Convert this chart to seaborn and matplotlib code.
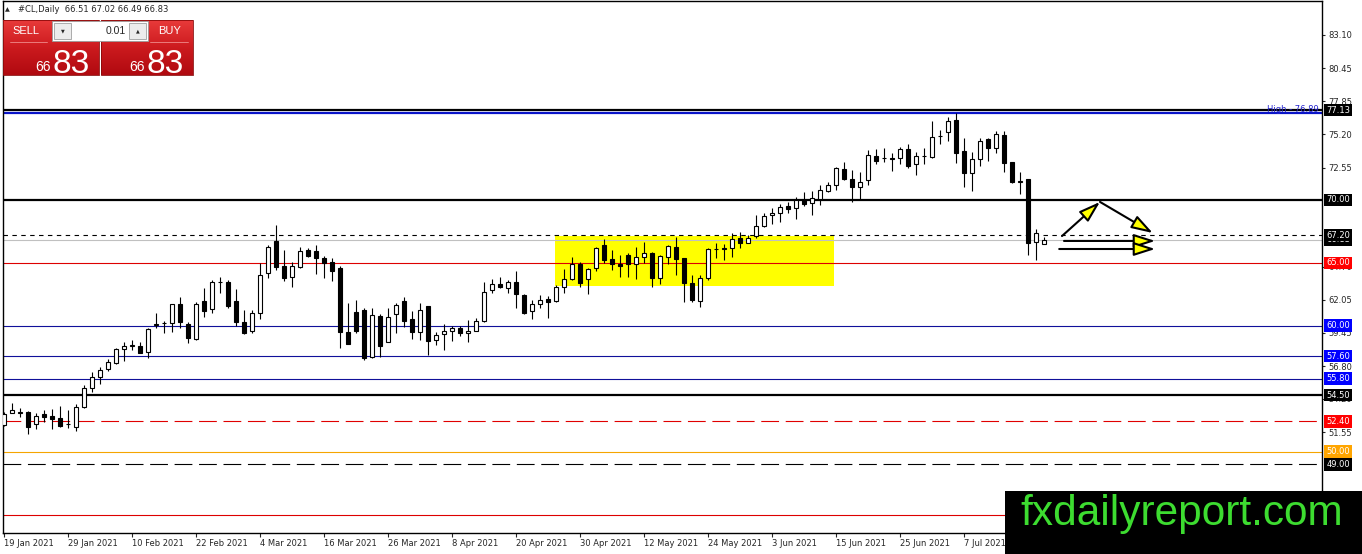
import numpy as np
import pandas as pd
import matplotlib
matplotlib.use("Agg")
import matplotlib.pyplot as plt
from matplotlib.patches import Rectangle
from matplotlib.colors import LinearSegmentedColormap
import seaborn as sns

# daily candles, first one is 19 Jan 2021
opens = [52.12, 53.05, 53.10, 53.15, 52.17, 52.99, 52.83, 52.65, 52.20, 51.99,
         53.52, 55.08, 55.96, 56.54, 57.07, 58.13, 58.42, 58.42, 57.94, 60.09,
         60.19, 60.25, 61.70, 60.14, 58.92, 61.97, 61.31, 63.48, 63.50, 61.97,
         60.27, 59.58, 61.04, 64.17, 66.73, 64.75, 63.85, 64.70, 66.02, 65.94,
         65.41, 65.04, 64.62, 59.53, 61.07, 61.26, 57.55, 60.81, 58.69, 60.91,
         61.97, 60.52, 59.48, 61.58, 58.88, 59.33, 59.59, 59.80, 59.41, 59.62,
         60.41, 62.85, 63.30, 62.98, 63.46, 62.45, 61.18, 61.71, 62.13, 61.97,
         63.06, 63.69, 64.89, 63.69, 64.57, 66.42, 65.28, 64.91, 65.62, 64.88,
         65.44, 65.76, 63.82, 65.49, 66.29, 65.36, 63.37, 61.97, 63.82, 66.07,
         66.21, 66.15, 66.95, 66.60, 67.13, 67.95, 68.80, 68.93, 69.54, 69.33,
         69.99, 69.73, 70.07, 70.71, 71.19, 72.43, 71.64, 71.05, 71.58, 73.49,
         73.30, 73.30, 73.30, 74.05, 72.83, 73.49, 73.44, 75.08, 75.37, 76.35,
         73.89, 72.17, 73.22, 74.81, 74.15, 75.16, 72.99, 71.45, 71.66, 66.63,
         66.51]
highs = [53.18, 53.84, 53.44, 53.26, 53.05, 53.31, 53.36, 53.63, 53.31, 53.79,
         55.30, 56.30, 56.70, 57.36, 58.26, 58.69, 58.87, 58.74, 59.85, 60.99,
         60.40, 61.70, 62.26, 60.27, 61.86, 62.97, 63.64, 63.85, 63.64, 62.89,
         61.25, 61.25, 64.96, 66.42, 68.00, 66.02, 65.04, 66.28, 66.20, 66.42,
         65.54, 65.36, 64.75, 61.78, 62.05, 61.40, 61.39, 60.91, 61.39, 61.79,
         62.32, 61.18, 61.79, 61.60, 59.48, 60.12, 59.99, 59.99, 60.46, 60.60,
         63.51, 63.69, 63.85, 63.64, 64.36, 62.53, 62.05, 62.45, 62.40, 63.24,
         64.49, 65.49, 65.10, 64.57, 66.29, 66.87, 66.02, 65.62, 65.76, 66.29,
         66.68, 65.84, 65.62, 66.42, 67.08, 65.41, 64.04, 64.04, 66.21, 66.55,
         66.47, 67.35, 67.48, 67.21, 68.80, 68.93, 69.38, 69.65, 69.86, 70.26,
         70.60, 70.71, 71.19, 71.45, 72.64, 73.04, 72.38, 72.19, 73.97, 74.05,
         74.15, 73.70, 74.23, 74.42, 73.83, 74.10, 76.27, 75.55, 76.61, 76.89,
         74.89, 73.83, 74.89, 74.95, 75.47, 75.47, 73.04, 72.24, 71.70, 67.69,
         67.02]
lows = [52.04, 53.05, 52.78, 51.40, 51.78, 52.33, 51.80, 51.99, 51.85, 51.67,
        53.44, 54.77, 55.35, 56.43, 56.96, 57.23, 58.08, 57.81, 57.41, 59.85,
        59.40, 59.48, 59.80, 58.61, 58.87, 60.67, 60.99, 62.63, 61.38, 60.01,
        59.35, 59.45, 60.51, 63.82, 64.43, 63.58, 63.10, 64.56, 65.44, 64.11,
        63.82, 63.56, 58.26, 58.55, 59.45, 57.29, 57.42, 57.55, 58.69, 59.41,
        59.93, 58.96, 58.88, 57.68, 58.48, 58.08, 58.80, 59.19, 58.74, 59.59,
        60.33, 62.58, 62.98, 62.64, 61.44, 60.91, 60.52, 61.39, 60.65, 61.92,
        62.58, 63.64, 63.11, 62.53, 64.35, 65.02, 64.43, 63.90, 63.90, 63.69,
        64.96, 63.11, 63.29, 64.88, 64.04, 61.92, 61.92, 61.52, 63.64, 65.36,
        65.23, 65.49, 66.15, 66.55, 67.00, 67.87, 68.06, 68.27, 68.93, 68.48,
        69.54, 68.80, 69.60, 70.66, 70.79, 71.58, 69.81, 69.99, 71.19, 72.83,
        72.99, 72.30, 72.83, 72.56, 71.98, 72.83, 73.30, 74.42, 74.68, 72.91,
        71.05, 70.74, 72.72, 73.09, 73.70, 72.24, 71.37, 70.44, 65.63, 65.23,
        66.49]
closes = [52.97, 53.31, 53.12, 51.99, 52.86, 52.75, 52.60, 52.07, 52.22, 53.58,
          55.03, 55.96, 56.46, 57.10, 58.13, 58.42, 58.44, 57.86, 59.72, 60.10,
          60.21, 61.70, 60.27, 59.00, 61.70, 61.20, 63.50, 63.50, 61.57, 60.27,
          59.45, 61.04, 64.03, 66.23, 64.70, 63.77, 64.75, 65.94, 65.57, 65.36,
          64.96, 64.38, 59.53, 58.55, 59.61, 57.42, 60.86, 58.43, 60.73, 61.66,
          60.41, 59.48, 61.26, 58.82, 59.27, 59.59, 59.80, 59.41, 59.62, 60.41,
          62.71, 63.32, 63.06, 63.51, 62.56, 61.05, 61.73, 62.05, 61.92, 63.11,
          63.72, 64.89, 63.40, 64.51, 66.15, 65.23, 64.88, 64.78, 64.88, 65.49,
          65.76, 63.77, 65.54, 66.37, 65.28, 63.37, 62.05, 63.82, 66.10, 66.09,
          66.07, 66.87, 66.55, 66.95, 67.95, 68.75, 68.93, 69.41, 69.25, 69.99,
          69.65, 70.13, 70.79, 71.19, 72.51, 71.64, 71.00, 71.40, 73.57, 73.09,
          73.32, 73.28, 74.02, 72.72, 73.49, 73.51, 74.97, 75.10, 76.30, 73.75,
          72.11, 73.25, 74.68, 74.15, 75.21, 72.91, 71.45, 71.47, 66.55, 67.35,
          66.83]

date_labels = ["19 Jan 2021", "29 Jan 2021", "10 Feb 2021", "22 Feb 2021",
               "4 Mar 2021", "16 Mar 2021", "26 Mar 2021", "8 Apr 2021",
               "20 Apr 2021", "30 Apr 2021", "12 May 2021", "24 May 2021",
               "3 Jun 2021", "15 Jun 2021", "25 Jun 2021", "7 Jul 2021"]
label_step = 8

# price scale labels that can be seen (others sit under the level boxes)
price_ticks = [83.10, 80.45, 77.85, 75.20, 72.55, 64.70, 62.05,
               59.45, 56.80, 54.20, 51.55]

# horizontal levels drawn on the chart
level_names = ["top", "high", "r70", "r672", "bid", "r65", "s60", "s576",
               "s558", "s545", "s524", "s50", "s49", "s45"]
level_prices = [77.13, 76.89, 70.00, 67.20, 66.83, 65.00, 60.00, 57.60,
                55.80, 54.50, 52.40, 50.00, 49.00, 45.00]

# yellow consolidation box (candle index range, price range)
zone_x = [68.9, 103.75]
zone_y = [63.15, 67.15]

# projection arrows (candle index, price)
arrow_from = [(132.25, 67.13), (137.0, 69.84), (132.5, 66.74), (131.9, 66.10)]
arrow_to = [(137.0, 69.84), (143.6, 67.37), (143.9, 66.74), (143.9, 66.10)]

symbol = "#CL,Daily"
lot = "0.01"

# ---- styles ----
NAVY = "#10109a"
line_style = {
    "top":  dict(color="black", lw=1.6, ls="-"),
    "high": dict(color="#0a14c8", lw=1.6, ls="-"),
    "r70":  dict(color="black", lw=1.6, ls="-"),
    "r672": dict(color="black", lw=0.8, ls=(0, (4, 4))),
    "bid":  dict(color="#c0c0c0", lw=0.8, ls="-"),
    "r65":  dict(color="#dd0000", lw=0.8, ls="-"),
    "s60":  dict(color=NAVY, lw=0.8, ls="-"),
    "s576": dict(color=NAVY, lw=0.8, ls="-"),
    "s558": dict(color=NAVY, lw=0.8, ls="-"),
    "s545": dict(color="black", lw=1.6, ls="-"),
    "s524": dict(color="#e00000", lw=0.8, ls=(0, (16, 6))),
    "s50":  dict(color="#f5a500", lw=0.8, ls="-"),
    "s49":  dict(color="black", lw=0.8, ls=(0, (16, 6))),
    "s45":  dict(color="#dd0000", lw=0.8, ls="-"),
}
label_box = {"top": "black", "r70": "black", "bid": "black", "r672": "black",
             "r65": "#ff0000", "s60": "#0000ff", "s576": "#0000ff",
             "s558": "#0000ff", "s545": "black", "s524": "#ff0000",
             "s50": "#ffa500", "s49": "black"}

W, H = 1362, 554
sns.set_style("white", {"axes.edgecolor": "black"})
plt.rcParams["font.family"] = ["DejaVu Sans"]

fig = plt.figure(figsize=(W / 100, H / 100), dpi=100)
fig.patch.set_facecolor("white")
ax = fig.add_axes([3 / W, 21 / H, 1319 / W, 532 / H])

df = pd.DataFrame({"open": opens, "high": highs, "low": lows, "close": closes})
df["idx"] = np.arange(len(df))
up = df[df["close"] >= df["open"]]
dn = df[df["close"] < df["open"]]

# yellow zone
ax.add_patch(Rectangle((zone_x[0], zone_y[0]), zone_x[1] - zone_x[0],
                       zone_y[1] - zone_y[0], fc="#ffff00", ec="none", zorder=0.5))

for name, price in zip(level_names, level_prices):
    st = line_style[name]
    ax.axhline(price, color=st["color"], lw=st["lw"], ls=st["ls"], zorder=1)

# candles
ax.vlines(df["idx"], df["low"], df["high"], color="black", lw=0.8, zorder=3)
ax.bar(up["idx"], (up["close"] - up["open"]).clip(lower=0.015), bottom=up["open"],
       width=0.6, color="white", edgecolor="black", lw=0.8, zorder=4)
ax.bar(dn["idx"], dn["open"] - dn["close"], bottom=dn["close"],
       width=0.6, color="black", edgecolor="black", lw=0.8, zorder=4)

# arrows
for a, b in zip(arrow_from, arrow_to):
    ax.annotate("", xy=b, xytext=a,
                arrowprops=dict(arrowstyle="-|>,head_length=1.0,head_width=0.32",
                                fc="#ffff00", ec="black", lw=1.5,
                                mutation_scale=13, shrinkA=0, shrinkB=0),
                zorder=6)

ax.set_xlim(-0.125, 164.75)
ax.set_ylim(43.54, 85.80)

# axes: dates at bottom, prices on the right
ax.set_xticks(np.arange(0, len(df), label_step)[:len(date_labels)])
ax.set_xticklabels(date_labels, fontsize=6, ha="left")
ax.yaxis.tick_right()
ax.set_yticks(price_ticks)
ax.set_yticklabels([f"{p:.2f}" for p in price_ticks], fontsize=6)
ax.tick_params(axis="x", direction="out", length=3, width=0.8, pad=1.5, bottom=True)
ax.tick_params(axis="y", direction="out", length=2.5, width=0.8, pad=2, right=True, left=False)
for s in ax.spines.values():
    s.set_color("black")
    s.set_linewidth(1.0)
ax.grid(False)

# coloured price labels on the right edge (bid under 67.20)
for name in ["bid", "top", "r70", "r672", "r65", "s60", "s576", "s558",
             "s545", "s524", "s50", "s49"]:
    price = level_prices[level_names.index(name)]
    ax.annotate(f"{price:.2f}", xy=(1, price), xycoords=("axes fraction", "data"),
                xytext=(3, 0), textcoords="offset points", ha="left", va="center",
                fontsize=6, color="white", annotation_clip=False, zorder=7,
                bbox=dict(boxstyle="square,pad=0.22", fc=label_box[name], ec="none"))

hi = level_prices[level_names.index("high")]
ax.annotate(f"High - {hi:.2f}", xy=(1, hi), xycoords=("axes fraction", "data"),
            xytext=(-2, -0.5), textcoords="offset points", ha="right", va="bottom",
            fontsize=6, color="#2222cc", zorder=7)

# ---- overlay in pixel coordinates: trade panel, header, watermark ----
ov = fig.add_axes([0, 0, 1, 1], zorder=10)
ov.set_xlim(0, W)
ov.set_ylim(H, 0)
ov.axis("off")
ov.patch.set_alpha(0)

o, h, l, c = opens[-1], highs[-1], lows[-1], closes[-1]
ov.text(5, 10, "\u25b2", fontsize=4.5, va="center", ha="left")
ov.text(18, 10, f"{symbol}  {o:.2f} {h:.2f} {l:.2f} {c:.2f}", fontsize=6,
        va="center", ha="left")

red_cmap = LinearSegmentedColormap.from_list("btn", ["#e83a3a", "#cc1a1e", "#b00a10"])
grad = np.linspace(0, 1, 60).reshape(-1, 1)
for x0, x1 in [(3, 99), (101, 193)]:
    ov.imshow(grad, cmap=red_cmap, extent=(x0, x1, 75, 20), aspect="auto", zorder=1)
    ov.add_patch(Rectangle((x0, 20), x1 - x0, 55, fc="none", ec="#8a0a0a", lw=0.6, zorder=2))
ov.plot([10, 47], [42, 42], color="#f08a8a", lw=0.6, zorder=2)
ov.plot([150, 188], [42, 42], color="#f08a8a", lw=0.6, zorder=2)
ov.text(26, 31, "SELL", color="white", fontsize=8, ha="center", va="center",
        family="Liberation Sans", zorder=3)
ov.text(170, 31, "BUY", color="white", fontsize=8, ha="center", va="center",
        family="Liberation Sans", zorder=3)

ov.add_patch(Rectangle((52, 21), 96, 20, fc="white", ec="#9a9a9a", lw=0.6, zorder=3))
ov.add_patch(Rectangle((54, 23), 17, 16, fc="#ececec", ec="#a0a0a0", lw=0.6, zorder=4))
ov.add_patch(Rectangle((129, 23), 17, 16, fc="#ececec", ec="#a0a0a0", lw=0.6, zorder=4))
ov.text(62.5, 31, "\u25bc", fontsize=3.5, ha="center", va="center", zorder=5)
ov.text(137.5, 31, "\u25b2", fontsize=3.5, ha="center", va="center", zorder=5)
ov.text(126, 31, lot, fontsize=7.5, ha="right", va="center",
        family="Liberation Sans", zorder=5)

big = f"{c:.2f}".split(".")
for x_split in [51, 145]:
    ov.text(x_split, 71, big[0], color="white", fontsize=10, ha="right",
            va="baseline", family="Liberation Sans", zorder=3)
    ov.text(x_split + 1, 73, big[1], color="white", fontsize=24, ha="left",
            va="baseline", family="Liberation Sans", zorder=3)

ov.add_patch(Rectangle((1005, 491), W - 1005, H - 491, fc="black", ec="none", zorder=5))
ov.text(1020, 525, "fxdailyreport.com", color="#3ddc30", fontsize=30.5,
        ha="left", va="baseline", family="Liberation Sans", zorder=6)
ov.set_xlim(0, W)
ov.set_ylim(H, 0)

fig.savefig("out.png", dpi=100)
